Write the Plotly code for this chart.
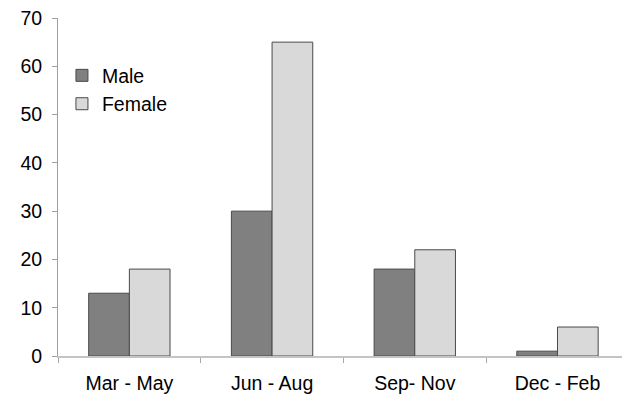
import plotly.graph_objects as go

# Seasonal counts by sex
seasons = ["Mar - May", "Jun - Aug", "Sep- Nov", "Dec - Feb"]
male = [13, 30, 18, 1]
female = [18, 65, 22, 6]
y_ticks = [0, 10, 20, 30, 40, 50, 60, 70]

font = dict(family="Liberation Sans, Arial, sans-serif", size=19.5, color="#000000")
edge = dict(color="#4a4a4a", width=1)

fig = go.Figure()
fig.add_trace(go.Bar(name="Male", x=seasons, y=male,
                     marker=dict(color="#808080", line=edge)))
fig.add_trace(go.Bar(name="Female", x=seasons, y=female,
                     marker=dict(color="#d9d9d9", line=edge)))

fig.update_layout(
    width=622, height=395,
    margin=dict(l=58, r=0, t=18, b=39),
    paper_bgcolor="white", plot_bgcolor="white",
    font=font,
    barmode="group", bargap=0.43, bargroupgap=0,
    showlegend=True,
    legend=dict(x=0.007, y=0.887, xanchor="left", yanchor="top",
                bgcolor="rgba(0,0,0,0)", font=font,
                itemwidth=30, tracegroupgap=4),
)
fig.update_xaxes(
    type="category", range=[-0.5, 3.452],
    showline=True, linecolor="#c4c4c4", linewidth=2,
    ticks="outside", tickson="boundaries", ticklen=5, tickcolor="#a6a6a6",
    tickwidth=1, ticklabelstandoff=9,
    showgrid=False, zeroline=False, tickfont=font,
)
fig.update_yaxes(
    range=[0, 70], tickvals=y_ticks,
    showline=True, linecolor="#a0a0a0", linewidth=1,
    ticks="outside", ticklen=5, tickcolor="#a0a0a0",
    ticklabelstandoff=6,
    showgrid=False, zeroline=False, tickfont=font,
)

fig.write_html("out.html")
